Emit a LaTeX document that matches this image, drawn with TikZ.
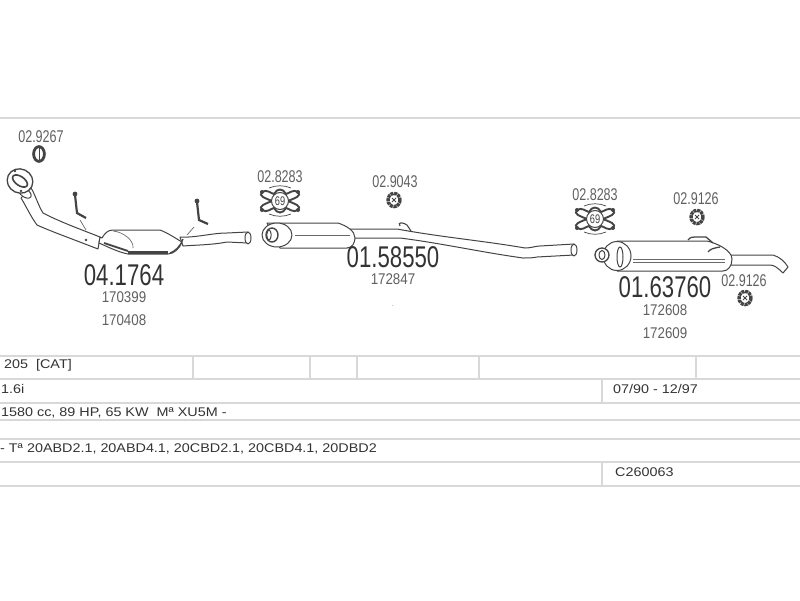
\documentclass[tikz,border=0pt]{standalone}
\usepackage{fontspec}
\setmainfont{Liberation Sans}
\newfontfamily\condA[FakeStretch=0.74]{Liberation Sans}
\newfontfamily\condB[FakeStretch=0.86]{Liberation Sans}
\newfontfamily\wideC[FakeStretch=1.14]{Liberation Sans}
\definecolor{ink}{HTML}{444444}
\definecolor{txt}{HTML}{333333}
\definecolor{rulec}{HTML}{D8D8D8}
\tikzset{
  pipe/.style={draw=ink,line width=1pt,fill=white,line join=round},
  thin pipe/.style={draw=ink!80,line width=0.7pt},
  dark/.style={draw=ink,line width=1.6pt},
  rulel/.style={draw=rulec,line width=2pt},
  bigno/.style={font=\condA\fontsize{30}{30}\selectfont,text=txt,inner sep=0pt},
  refno/.style={font=\condA\fontsize{17}{17}\selectfont,text=ink!85,inner sep=0pt},
  subno/.style={font=\condB\fontsize{15.5}{16}\selectfont,text=ink!85,inner sep=0pt},
  cell/.style={font=\wideC\fontsize{12.6}{13}\selectfont,text=txt,anchor=west,inner sep=0pt},
  clamp/.pic={
    \draw[dark,line width=1.9pt] (-18,-9) .. controls (-13,-12) and (-10,-8) .. (-6,-7) .. controls (-3,-13) and (3,-13) .. (6,-7) .. controls (10,-8) and (13,-12) .. (18,-9);
    \draw[dark,line width=1.9pt] (-18,9) .. controls (-13,12) and (-10,8) .. (-6,7) .. controls (-3,13) and (3,13) .. (6,7) .. controls (10,8) and (13,12) .. (18,9);
    \draw[dark,line width=1.9pt] (-18,-9) .. controls (-22,-5) and (-15,-3) .. (-8,0) .. controls (-15,3) and (-22,5) .. (-18,9);
    \draw[dark,line width=1.9pt] (18,-9) .. controls (22,-5) and (15,-3) .. (8,0) .. controls (15,3) and (22,5) .. (18,9);
    \fill[ink] (-18,-9) circle[radius=2] (18,-9) circle[radius=2] (-18,9) circle[radius=2] (18,9) circle[radius=2];
    \draw[pipe] (0,0) circle[radius=8.5];
    \draw[ink,line width=0.7pt] (-11,-13) .. controls (-4,-16) and (4,-16) .. (11,-13);
    \draw[ink,line width=0.7pt] (-11,13) .. controls (-4,16) and (4,16) .. (11,13);
    \node[font=\condA\fontsize{12.5}{12.5}\selectfont,text=ink,inner sep=0pt] (-t) at (0,0) {69};
  },
  ringclamp/.pic={
    \draw[ink,line width=3.4pt,dash pattern=on 3pt off 0.7pt] (0,0) ellipse[x radius=6,y radius=6.6];
    \draw[ink,line width=0.9pt] (-2,-2) -- (2,2) (-2,2) -- (2,-2);
  }
}
\begin{document}
\begin{tikzpicture}[x=1pt,y=-1pt]
\useasboundingbox (0,0) rectangle (800,600);

% frame and table rules
\coordinate (L0) at (0,118); \coordinate (R0) at (800,118);
\draw[rulel] (L0) -- (R0);
\foreach \yy in {356,379,403,420,439,462,486}
  \draw[rulel] (0,\yy) -- (800,\yy);
\foreach \xx in {193,310,357,479,696}
  \draw[rulel] (\xx,356) -- (\xx,379);
\draw[rulel] (602,379) -- (602,403);
\draw[rulel] (602,462) -- (602,486);

% section 1: front pipe with catalyst
\draw[pipe] (31,188) .. controls (35,194) and (38,205) .. (43,213) .. controls (60,222) and (85,231) .. (100,237)
  -- (98,249) .. controls (75,240) and (50,231) .. (37,225) .. controls (31,217) and (26,206) .. (21,198) -- cycle;
\draw[pipe] (180,237) .. controls (195,238) and (212,233) .. (227,233) -- (248,232)
  -- (248,243) -- (227,242) .. controls (212,245) and (195,245) .. (183,246) -- cycle;
\draw[pipe] (100,237) -- (102,238) .. controls (105,233) and (108,230) .. (113,230) -- (160,230)
  .. controls (168,233) and (175,238) .. (182,242) .. controls (180,248) and (174,254) .. (168,254)
  -- (128,254) .. controls (118,252) and (108,247) .. (99,243) -- cycle;
\draw[thin pipe] (113,231) .. controls (123,232) and (134,240) .. (133,248);
\draw[ink,line width=1.8pt] (104,243) -- (128,251);
\draw[ink,line width=3pt] (128,252.5) -- (168,252.5);
\draw[ink,line width=1.2pt] (170,253) .. controls (175,251) and (180,247) .. (183,239);
\draw[pipe,rotate around={-35:(25,193)}] (25,193) ellipse[x radius=7,y radius=4];
\draw[pipe,line width=1.3pt,rotate around={-25:(20,181)}] (20,181) ellipse[x radius=13,y radius=12];
\draw[dark,rotate around={-35:(20,181)}] (20,181) ellipse[x radius=8.5,y radius=4.5];
\fill[ink] (15,171) circle[radius=1.3] (21,191) circle[radius=1.3];
\fill[ink] (86,240) circle[radius=1.3];
\draw[pipe] (248,238) ellipse[x radius=3,y radius=6];
% sensors
\fill[ink] (75,194) circle[radius=2.4];
\draw[ink,line width=2.2pt] (75,195) -- (77,213) -- (86,218);
\draw[thin pipe] (80,220) -- (86,230);
\fill[ink] (197,201) circle[radius=2.4];
\draw[ink,line width=2.2pt] (197,202) -- (199,220) -- (208,224);
\draw[thin pipe] (194,227) -- (187,235);
% clamp 02.9267
\draw[ink,line width=2.8pt] (39,154) ellipse[x radius=5.4,y radius=7.4];
\draw[ink,line width=0.9pt] (39,147) -- (39,161);

% section 2: centre silencer
\draw[pipe] (350,229) -- (397,229) .. controls (440,237) and (485,241) .. (525,248)
  .. controls (532,248) and (535,246) .. (540,246) -- (574,244)
  -- (574,255) -- (537,257) .. controls (533,258) and (528,258) .. (523,258)
  .. controls (480,252) and (440,243) .. (400,238) -- (350,238) -- cycle;
\draw[pipe] (267,223) -- (338,223) .. controls (347,226) and (355,231) .. (355,238)
  .. controls (355,243) and (352,248) .. (347,248) -- (280,248) -- cycle;
\draw[pipe] (277,235) ellipse[x radius=15,y radius=12];
\draw[pipe,line width=1.4pt] (272,235) ellipse[x radius=6,y radius=7];
\draw[pipe] (269,235) ellipse[x radius=2.2,y radius=5];
\draw[thin pipe] (295,235) -- (350,235);
\draw[pipe] (574,250) ellipse[x radius=3,y radius=6];
\draw[ink,line width=1.1pt] (400,226) .. controls (397,222) and (403,222) .. (407,225) -- (411,231);

% section 3: rear silencer
\draw[pipe] (730,255) -- (773,255) .. controls (780,257) and (785,262) .. (788,267)
  -- (783,273) .. controls (778,268) and (774,265) .. (770,265) -- (728,265) -- cycle;
\draw[pipe] (617,241) -- (707,241) .. controls (716,243) and (732,250) .. (732,259)
  .. controls (732,266) and (728,271) .. (723,271) -- (617,271) -- cycle;
\draw[pipe] (617,256) ellipse[x radius=14,y radius=14.5];
\draw[pipe] (620,257) ellipse[x radius=3,y radius=10];
\draw[pipe,line width=1.3pt] (602,255) ellipse[x radius=7,y radius=7];
\draw[pipe] (602,255) ellipse[x radius=3,y radius=4.5];
\draw[thin pipe] (633,259) -- (725,259);
\draw[thin pipe] (633,262) -- (725,262);
\draw[ink,line width=1.3pt] (688,240) .. controls (690,237) and (693,237) .. (695,237) -- (706,237) -- (713,243);
\draw[ink,line width=1.3pt] (708,252) .. controls (710,249) and (714,248) .. (720,247);

% clamps
\pic (cA) at (280,201) {clamp};
\pic (cB) at (595,219) {clamp};
\pic (rA) at (394,200) {ringclamp};
\pic (rB) at (697,217) {ringclamp};
\pic (rC) at (745,298) {ringclamp};

% part numbers
\node[refno] (n1) at (41,137) {02.9267};
\node[refno] (n2) at (280,177) {02.8283};
\node[refno] (n3) at (395,182) {02.9043};
\node[refno] (n4) at (595,195) {02.8283};
\node[refno] (n5) at (696,199) {02.9126};
\node[refno] (n6) at (744,281) {02.9126};
\node[bigno] (b1) at (124,275) {04.1764};
\node[bigno] (b2) at (393,257) {01.58550};
\node[bigno] (b3) at (665,287) {01.63760};
\node[subno] (s1) at (124,297) {170399};
\node[subno] (s2) at (124,320) {170408};
\node[subno] (s3) at (393,279) {172847};
\node[subno] (s4) at (665,310) {172608};
\node[subno] (s5) at (665,333) {172609};
\node[inner sep=0pt,font=\fontsize{6}{6}\selectfont,text=ink] (dot) at (393,306) {.};

% table text
\node[cell] (t1) at (4,365) {205\ \ [CAT]};
\node[cell] (t2) at (1,389) {1.6i};
\node[cell] (t3) at (1,413) {1580 cc, 89 HP, 65 KW\ \ Mª XU5M -};
\node[cell] (t4) at (0,449) {- Tª 20ABD2.1, 20ABD4.1, 20CBD2.1, 20CBD4.1, 20DBD2};
\node[cell] (t5) at (613,389) {07/90 - 12/97};
\node[cell] (t6) at (615,472) {C260063};
\end{tikzpicture}
\end{document}
